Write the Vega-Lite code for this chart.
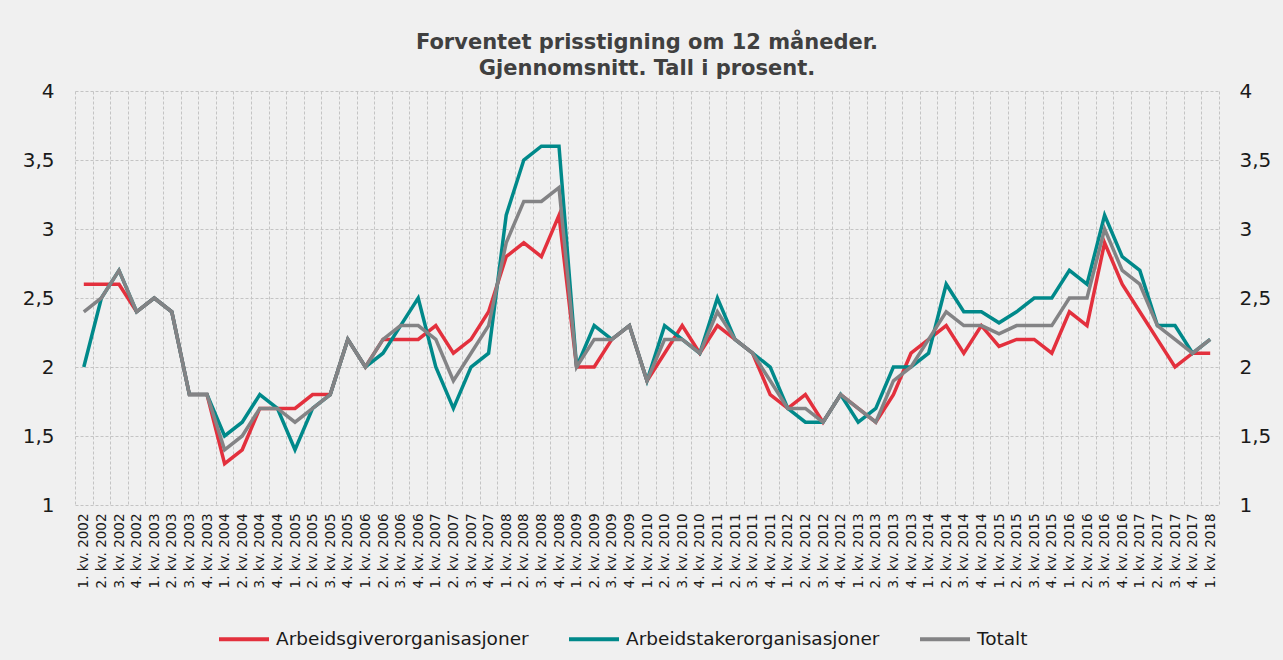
{
  "$schema": "https://vega.github.io/schema/vega-lite/v6.json",
  "width": 1144,
  "height": 414,
  "autosize": {"type": "none"},
  "padding": {"left": 75, "top": 91, "right": 64, "bottom": 155},
  "background": "#f0f0f0",
  "title": {
    "text": ["Forventet prisstigning om 12 måneder.", "Gjennomsnitt. Tall i prosent."],
    "font": "DejaVu Sans",
    "fontSize": 21,
    "fontWeight": "bold",
    "color": "#404040",
    "lineHeight": 26,
    "anchor": "middle",
    "offset": 2
  },
  "config": {
    "view": {"stroke": null},
    "axis": {"labelFont": "DejaVu Sans", "labelColor": "#1a1a1a"}
  },
  "data": {
    "values": [
      {"q": "1. kv. 2002", "s": "Arbeidsgiverorganisasjoner", "v": 2.6},
      {"q": "2. kv. 2002", "s": "Arbeidsgiverorganisasjoner", "v": 2.6},
      {"q": "3. kv. 2002", "s": "Arbeidsgiverorganisasjoner", "v": 2.6},
      {"q": "4. kv. 2002", "s": "Arbeidsgiverorganisasjoner", "v": 2.4},
      {"q": "1. kv. 2003", "s": "Arbeidsgiverorganisasjoner", "v": 2.5},
      {"q": "2. kv. 2003", "s": "Arbeidsgiverorganisasjoner", "v": 2.4},
      {"q": "3. kv. 2003", "s": "Arbeidsgiverorganisasjoner", "v": 1.8},
      {"q": "4. kv. 2003", "s": "Arbeidsgiverorganisasjoner", "v": 1.8},
      {"q": "1. kv. 2004", "s": "Arbeidsgiverorganisasjoner", "v": 1.3},
      {"q": "2. kv. 2004", "s": "Arbeidsgiverorganisasjoner", "v": 1.4},
      {"q": "3. kv. 2004", "s": "Arbeidsgiverorganisasjoner", "v": 1.7},
      {"q": "4. kv. 2004", "s": "Arbeidsgiverorganisasjoner", "v": 1.7},
      {"q": "1. kv. 2005", "s": "Arbeidsgiverorganisasjoner", "v": 1.7},
      {"q": "2. kv. 2005", "s": "Arbeidsgiverorganisasjoner", "v": 1.8},
      {"q": "3. kv. 2005", "s": "Arbeidsgiverorganisasjoner", "v": 1.8},
      {"q": "4. kv. 2005", "s": "Arbeidsgiverorganisasjoner", "v": 2.2},
      {"q": "1. kv. 2006", "s": "Arbeidsgiverorganisasjoner", "v": 2.0},
      {"q": "2. kv. 2006", "s": "Arbeidsgiverorganisasjoner", "v": 2.2},
      {"q": "3. kv. 2006", "s": "Arbeidsgiverorganisasjoner", "v": 2.2},
      {"q": "4. kv. 2006", "s": "Arbeidsgiverorganisasjoner", "v": 2.2},
      {"q": "1. kv. 2007", "s": "Arbeidsgiverorganisasjoner", "v": 2.3},
      {"q": "2. kv. 2007", "s": "Arbeidsgiverorganisasjoner", "v": 2.1},
      {"q": "3. kv. 2007", "s": "Arbeidsgiverorganisasjoner", "v": 2.2},
      {"q": "4. kv. 2007", "s": "Arbeidsgiverorganisasjoner", "v": 2.4},
      {"q": "1. kv. 2008", "s": "Arbeidsgiverorganisasjoner", "v": 2.8},
      {"q": "2. kv. 2008", "s": "Arbeidsgiverorganisasjoner", "v": 2.9},
      {"q": "3. kv. 2008", "s": "Arbeidsgiverorganisasjoner", "v": 2.8},
      {"q": "4. kv. 2008", "s": "Arbeidsgiverorganisasjoner", "v": 3.1},
      {"q": "1. kv. 2009", "s": "Arbeidsgiverorganisasjoner", "v": 2.0},
      {"q": "2. kv. 2009", "s": "Arbeidsgiverorganisasjoner", "v": 2.0},
      {"q": "3. kv. 2009", "s": "Arbeidsgiverorganisasjoner", "v": 2.2},
      {"q": "4. kv. 2009", "s": "Arbeidsgiverorganisasjoner", "v": 2.3},
      {"q": "1. kv. 2010", "s": "Arbeidsgiverorganisasjoner", "v": 1.9},
      {"q": "2. kv. 2010", "s": "Arbeidsgiverorganisasjoner", "v": 2.1},
      {"q": "3. kv. 2010", "s": "Arbeidsgiverorganisasjoner", "v": 2.3},
      {"q": "4. kv. 2010", "s": "Arbeidsgiverorganisasjoner", "v": 2.1},
      {"q": "1. kv. 2011", "s": "Arbeidsgiverorganisasjoner", "v": 2.3},
      {"q": "2. kv. 2011", "s": "Arbeidsgiverorganisasjoner", "v": 2.2},
      {"q": "3. kv. 2011", "s": "Arbeidsgiverorganisasjoner", "v": 2.1},
      {"q": "4. kv. 2011", "s": "Arbeidsgiverorganisasjoner", "v": 1.8},
      {"q": "1. kv. 2012", "s": "Arbeidsgiverorganisasjoner", "v": 1.7},
      {"q": "2. kv. 2012", "s": "Arbeidsgiverorganisasjoner", "v": 1.8},
      {"q": "3. kv. 2012", "s": "Arbeidsgiverorganisasjoner", "v": 1.6},
      {"q": "4. kv. 2012", "s": "Arbeidsgiverorganisasjoner", "v": 1.8},
      {"q": "1. kv. 2013", "s": "Arbeidsgiverorganisasjoner", "v": 1.7},
      {"q": "2. kv. 2013", "s": "Arbeidsgiverorganisasjoner", "v": 1.6},
      {"q": "3. kv. 2013", "s": "Arbeidsgiverorganisasjoner", "v": 1.8},
      {"q": "4. kv. 2013", "s": "Arbeidsgiverorganisasjoner", "v": 2.1},
      {"q": "1. kv. 2014", "s": "Arbeidsgiverorganisasjoner", "v": 2.2},
      {"q": "2. kv. 2014", "s": "Arbeidsgiverorganisasjoner", "v": 2.3},
      {"q": "3. kv. 2014", "s": "Arbeidsgiverorganisasjoner", "v": 2.1},
      {"q": "4. kv. 2014", "s": "Arbeidsgiverorganisasjoner", "v": 2.3},
      {"q": "1. kv. 2015", "s": "Arbeidsgiverorganisasjoner", "v": 2.15},
      {"q": "2. kv. 2015", "s": "Arbeidsgiverorganisasjoner", "v": 2.2},
      {"q": "3. kv. 2015", "s": "Arbeidsgiverorganisasjoner", "v": 2.2},
      {"q": "4. kv. 2015", "s": "Arbeidsgiverorganisasjoner", "v": 2.1},
      {"q": "1. kv. 2016", "s": "Arbeidsgiverorganisasjoner", "v": 2.4},
      {"q": "2. kv. 2016", "s": "Arbeidsgiverorganisasjoner", "v": 2.3},
      {"q": "3. kv. 2016", "s": "Arbeidsgiverorganisasjoner", "v": 2.9},
      {"q": "4. kv. 2016", "s": "Arbeidsgiverorganisasjoner", "v": 2.6},
      {"q": "1. kv. 2017", "s": "Arbeidsgiverorganisasjoner", "v": 2.4},
      {"q": "2. kv. 2017", "s": "Arbeidsgiverorganisasjoner", "v": 2.2},
      {"q": "3. kv. 2017", "s": "Arbeidsgiverorganisasjoner", "v": 2.0},
      {"q": "4. kv. 2017", "s": "Arbeidsgiverorganisasjoner", "v": 2.1},
      {"q": "1. kv. 2018", "s": "Arbeidsgiverorganisasjoner", "v": 2.1},

      {"q": "1. kv. 2002", "s": "Arbeidstakerorganisasjoner", "v": 2.0},
      {"q": "2. kv. 2002", "s": "Arbeidstakerorganisasjoner", "v": 2.5},
      {"q": "3. kv. 2002", "s": "Arbeidstakerorganisasjoner", "v": 2.7},
      {"q": "4. kv. 2002", "s": "Arbeidstakerorganisasjoner", "v": 2.4},
      {"q": "1. kv. 2003", "s": "Arbeidstakerorganisasjoner", "v": 2.5},
      {"q": "2. kv. 2003", "s": "Arbeidstakerorganisasjoner", "v": 2.4},
      {"q": "3. kv. 2003", "s": "Arbeidstakerorganisasjoner", "v": 1.8},
      {"q": "4. kv. 2003", "s": "Arbeidstakerorganisasjoner", "v": 1.8},
      {"q": "1. kv. 2004", "s": "Arbeidstakerorganisasjoner", "v": 1.5},
      {"q": "2. kv. 2004", "s": "Arbeidstakerorganisasjoner", "v": 1.6},
      {"q": "3. kv. 2004", "s": "Arbeidstakerorganisasjoner", "v": 1.8},
      {"q": "4. kv. 2004", "s": "Arbeidstakerorganisasjoner", "v": 1.7},
      {"q": "1. kv. 2005", "s": "Arbeidstakerorganisasjoner", "v": 1.4},
      {"q": "2. kv. 2005", "s": "Arbeidstakerorganisasjoner", "v": 1.7},
      {"q": "3. kv. 2005", "s": "Arbeidstakerorganisasjoner", "v": 1.8},
      {"q": "4. kv. 2005", "s": "Arbeidstakerorganisasjoner", "v": 2.2},
      {"q": "1. kv. 2006", "s": "Arbeidstakerorganisasjoner", "v": 2.0},
      {"q": "2. kv. 2006", "s": "Arbeidstakerorganisasjoner", "v": 2.1},
      {"q": "3. kv. 2006", "s": "Arbeidstakerorganisasjoner", "v": 2.3},
      {"q": "4. kv. 2006", "s": "Arbeidstakerorganisasjoner", "v": 2.5},
      {"q": "1. kv. 2007", "s": "Arbeidstakerorganisasjoner", "v": 2.0},
      {"q": "2. kv. 2007", "s": "Arbeidstakerorganisasjoner", "v": 1.7},
      {"q": "3. kv. 2007", "s": "Arbeidstakerorganisasjoner", "v": 2.0},
      {"q": "4. kv. 2007", "s": "Arbeidstakerorganisasjoner", "v": 2.1},
      {"q": "1. kv. 2008", "s": "Arbeidstakerorganisasjoner", "v": 3.1},
      {"q": "2. kv. 2008", "s": "Arbeidstakerorganisasjoner", "v": 3.5},
      {"q": "3. kv. 2008", "s": "Arbeidstakerorganisasjoner", "v": 3.6},
      {"q": "4. kv. 2008", "s": "Arbeidstakerorganisasjoner", "v": 3.6},
      {"q": "1. kv. 2009", "s": "Arbeidstakerorganisasjoner", "v": 2.0},
      {"q": "2. kv. 2009", "s": "Arbeidstakerorganisasjoner", "v": 2.3},
      {"q": "3. kv. 2009", "s": "Arbeidstakerorganisasjoner", "v": 2.2},
      {"q": "4. kv. 2009", "s": "Arbeidstakerorganisasjoner", "v": 2.3},
      {"q": "1. kv. 2010", "s": "Arbeidstakerorganisasjoner", "v": 1.9},
      {"q": "2. kv. 2010", "s": "Arbeidstakerorganisasjoner", "v": 2.3},
      {"q": "3. kv. 2010", "s": "Arbeidstakerorganisasjoner", "v": 2.2},
      {"q": "4. kv. 2010", "s": "Arbeidstakerorganisasjoner", "v": 2.1},
      {"q": "1. kv. 2011", "s": "Arbeidstakerorganisasjoner", "v": 2.5},
      {"q": "2. kv. 2011", "s": "Arbeidstakerorganisasjoner", "v": 2.2},
      {"q": "3. kv. 2011", "s": "Arbeidstakerorganisasjoner", "v": 2.1},
      {"q": "4. kv. 2011", "s": "Arbeidstakerorganisasjoner", "v": 2.0},
      {"q": "1. kv. 2012", "s": "Arbeidstakerorganisasjoner", "v": 1.7},
      {"q": "2. kv. 2012", "s": "Arbeidstakerorganisasjoner", "v": 1.6},
      {"q": "3. kv. 2012", "s": "Arbeidstakerorganisasjoner", "v": 1.6},
      {"q": "4. kv. 2012", "s": "Arbeidstakerorganisasjoner", "v": 1.8},
      {"q": "1. kv. 2013", "s": "Arbeidstakerorganisasjoner", "v": 1.6},
      {"q": "2. kv. 2013", "s": "Arbeidstakerorganisasjoner", "v": 1.7},
      {"q": "3. kv. 2013", "s": "Arbeidstakerorganisasjoner", "v": 2.0},
      {"q": "4. kv. 2013", "s": "Arbeidstakerorganisasjoner", "v": 2.0},
      {"q": "1. kv. 2014", "s": "Arbeidstakerorganisasjoner", "v": 2.1},
      {"q": "2. kv. 2014", "s": "Arbeidstakerorganisasjoner", "v": 2.6},
      {"q": "3. kv. 2014", "s": "Arbeidstakerorganisasjoner", "v": 2.4},
      {"q": "4. kv. 2014", "s": "Arbeidstakerorganisasjoner", "v": 2.4},
      {"q": "1. kv. 2015", "s": "Arbeidstakerorganisasjoner", "v": 2.32},
      {"q": "2. kv. 2015", "s": "Arbeidstakerorganisasjoner", "v": 2.4},
      {"q": "3. kv. 2015", "s": "Arbeidstakerorganisasjoner", "v": 2.5},
      {"q": "4. kv. 2015", "s": "Arbeidstakerorganisasjoner", "v": 2.5},
      {"q": "1. kv. 2016", "s": "Arbeidstakerorganisasjoner", "v": 2.7},
      {"q": "2. kv. 2016", "s": "Arbeidstakerorganisasjoner", "v": 2.6},
      {"q": "3. kv. 2016", "s": "Arbeidstakerorganisasjoner", "v": 3.1},
      {"q": "4. kv. 2016", "s": "Arbeidstakerorganisasjoner", "v": 2.8},
      {"q": "1. kv. 2017", "s": "Arbeidstakerorganisasjoner", "v": 2.7},
      {"q": "2. kv. 2017", "s": "Arbeidstakerorganisasjoner", "v": 2.3},
      {"q": "3. kv. 2017", "s": "Arbeidstakerorganisasjoner", "v": 2.3},
      {"q": "4. kv. 2017", "s": "Arbeidstakerorganisasjoner", "v": 2.1},
      {"q": "1. kv. 2018", "s": "Arbeidstakerorganisasjoner", "v": 2.2},

      {"q": "1. kv. 2002", "s": "Totalt", "v": 2.4},
      {"q": "2. kv. 2002", "s": "Totalt", "v": 2.5},
      {"q": "3. kv. 2002", "s": "Totalt", "v": 2.7},
      {"q": "4. kv. 2002", "s": "Totalt", "v": 2.4},
      {"q": "1. kv. 2003", "s": "Totalt", "v": 2.5},
      {"q": "2. kv. 2003", "s": "Totalt", "v": 2.4},
      {"q": "3. kv. 2003", "s": "Totalt", "v": 1.8},
      {"q": "4. kv. 2003", "s": "Totalt", "v": 1.8},
      {"q": "1. kv. 2004", "s": "Totalt", "v": 1.4},
      {"q": "2. kv. 2004", "s": "Totalt", "v": 1.5},
      {"q": "3. kv. 2004", "s": "Totalt", "v": 1.7},
      {"q": "4. kv. 2004", "s": "Totalt", "v": 1.7},
      {"q": "1. kv. 2005", "s": "Totalt", "v": 1.6},
      {"q": "2. kv. 2005", "s": "Totalt", "v": 1.7},
      {"q": "3. kv. 2005", "s": "Totalt", "v": 1.8},
      {"q": "4. kv. 2005", "s": "Totalt", "v": 2.2},
      {"q": "1. kv. 2006", "s": "Totalt", "v": 2.0},
      {"q": "2. kv. 2006", "s": "Totalt", "v": 2.2},
      {"q": "3. kv. 2006", "s": "Totalt", "v": 2.3},
      {"q": "4. kv. 2006", "s": "Totalt", "v": 2.3},
      {"q": "1. kv. 2007", "s": "Totalt", "v": 2.2},
      {"q": "2. kv. 2007", "s": "Totalt", "v": 1.9},
      {"q": "3. kv. 2007", "s": "Totalt", "v": 2.1},
      {"q": "4. kv. 2007", "s": "Totalt", "v": 2.3},
      {"q": "1. kv. 2008", "s": "Totalt", "v": 2.9},
      {"q": "2. kv. 2008", "s": "Totalt", "v": 3.2},
      {"q": "3. kv. 2008", "s": "Totalt", "v": 3.2},
      {"q": "4. kv. 2008", "s": "Totalt", "v": 3.3},
      {"q": "1. kv. 2009", "s": "Totalt", "v": 2.0},
      {"q": "2. kv. 2009", "s": "Totalt", "v": 2.2},
      {"q": "3. kv. 2009", "s": "Totalt", "v": 2.2},
      {"q": "4. kv. 2009", "s": "Totalt", "v": 2.3},
      {"q": "1. kv. 2010", "s": "Totalt", "v": 1.9},
      {"q": "2. kv. 2010", "s": "Totalt", "v": 2.2},
      {"q": "3. kv. 2010", "s": "Totalt", "v": 2.2},
      {"q": "4. kv. 2010", "s": "Totalt", "v": 2.1},
      {"q": "1. kv. 2011", "s": "Totalt", "v": 2.4},
      {"q": "2. kv. 2011", "s": "Totalt", "v": 2.2},
      {"q": "3. kv. 2011", "s": "Totalt", "v": 2.1},
      {"q": "4. kv. 2011", "s": "Totalt", "v": 1.9},
      {"q": "1. kv. 2012", "s": "Totalt", "v": 1.7},
      {"q": "2. kv. 2012", "s": "Totalt", "v": 1.7},
      {"q": "3. kv. 2012", "s": "Totalt", "v": 1.6},
      {"q": "4. kv. 2012", "s": "Totalt", "v": 1.8},
      {"q": "1. kv. 2013", "s": "Totalt", "v": 1.7},
      {"q": "2. kv. 2013", "s": "Totalt", "v": 1.6},
      {"q": "3. kv. 2013", "s": "Totalt", "v": 1.9},
      {"q": "4. kv. 2013", "s": "Totalt", "v": 2.0},
      {"q": "1. kv. 2014", "s": "Totalt", "v": 2.2},
      {"q": "2. kv. 2014", "s": "Totalt", "v": 2.4},
      {"q": "3. kv. 2014", "s": "Totalt", "v": 2.3},
      {"q": "4. kv. 2014", "s": "Totalt", "v": 2.3},
      {"q": "1. kv. 2015", "s": "Totalt", "v": 2.24},
      {"q": "2. kv. 2015", "s": "Totalt", "v": 2.3},
      {"q": "3. kv. 2015", "s": "Totalt", "v": 2.3},
      {"q": "4. kv. 2015", "s": "Totalt", "v": 2.3},
      {"q": "1. kv. 2016", "s": "Totalt", "v": 2.5},
      {"q": "2. kv. 2016", "s": "Totalt", "v": 2.5},
      {"q": "3. kv. 2016", "s": "Totalt", "v": 3.0},
      {"q": "4. kv. 2016", "s": "Totalt", "v": 2.7},
      {"q": "1. kv. 2017", "s": "Totalt", "v": 2.6},
      {"q": "2. kv. 2017", "s": "Totalt", "v": 2.3},
      {"q": "3. kv. 2017", "s": "Totalt", "v": 2.2},
      {"q": "4. kv. 2017", "s": "Totalt", "v": 2.1},
      {"q": "1. kv. 2018", "s": "Totalt", "v": 2.2}
    ]
  },
  "layer": [
    {
      "mark": {"type": "line", "strokeWidth": 3.5, "strokeJoin": "miter", "strokeCap": "butt"},
      "encoding": {
        "x": {
          "field": "q",
          "type": "ordinal",
          "sort": null,
          "bandPosition": 0.5,
          "scale": {"type": "band", "paddingInner": 0, "paddingOuter": 0},
          "axis": {
            "title": null,
            "labelAngle": -90,
            "labelAlign": "right",
            "labelBaseline": "middle",
            "labelFontSize": 13.5,
            "labelPadding": 8,
            "labelOverlap": false,
            "ticks": false,
            "domain": false,
            "grid": true,
            "tickBand": "extent",
            "gridColor": "#c4c4c4",
            "gridDash": [3, 2],
            "gridWidth": 1
          }
        },
        "y": {
          "field": "v",
          "type": "quantitative",
          "scale": {"domain": [1, 4], "nice": false, "zero": false},
          "axis": {
            "title": null,
            "values": [1, 1.5, 2, 2.5, 3, 3.5, 4],
            "labelExpr": "replace(format(datum.value, '.1~f'), '.', ',')",
            "labelFontSize": 20,
            "labelPadding": 21,
            "ticks": false,
            "domain": false,
            "grid": true,
            "gridColor": "#c4c4c4",
            "gridDash": [3, 2],
            "gridWidth": 1
          }
        },
        "color": {
          "field": "s",
          "type": "nominal",
          "sort": ["Arbeidsgiverorganisasjoner", "Arbeidstakerorganisasjoner", "Totalt"],
          "scale": {
            "domain": ["Arbeidsgiverorganisasjoner", "Arbeidstakerorganisasjoner", "Totalt"],
            "range": ["#E3303D", "#00898A", "#838385"]
          },
          "legend": {
            "title": null,
            "orient": "none",
            "direction": "horizontal",
            "legendX": 142,
            "legendY": 521,
            "symbolType": "stroke",
            "symbolSize": 2500,
            "symbolStrokeWidth": 4,
            "labelFont": "DejaVu Sans",
            "labelFontSize": 18.5,
            "labelColor": "#1a1a1a",
            "labelOffset": 5,
            "columnPadding": 32,
            "labelLimit": 400
          }
        }
      }
    },
    {
      "mark": {"type": "line", "strokeOpacity": 0},
      "encoding": {
        "x": {"field": "q", "type": "ordinal", "sort": null, "bandPosition": 0.5},
        "y": {
          "field": "v",
          "type": "quantitative",
          "axis": {
            "orient": "right",
            "title": null,
            "values": [1, 1.5, 2, 2.5, 3, 3.5, 4],
            "labelExpr": "replace(format(datum.value, '.1~f'), '.', ',')",
            "labelFontSize": 20,
            "labelPadding": 20,
            "ticks": false,
            "domain": false,
            "grid": false
          }
        },
        "detail": {"field": "s", "type": "nominal"}
      }
    }
  ],
  "resolve": {"axis": {"y": "independent"}}
}
